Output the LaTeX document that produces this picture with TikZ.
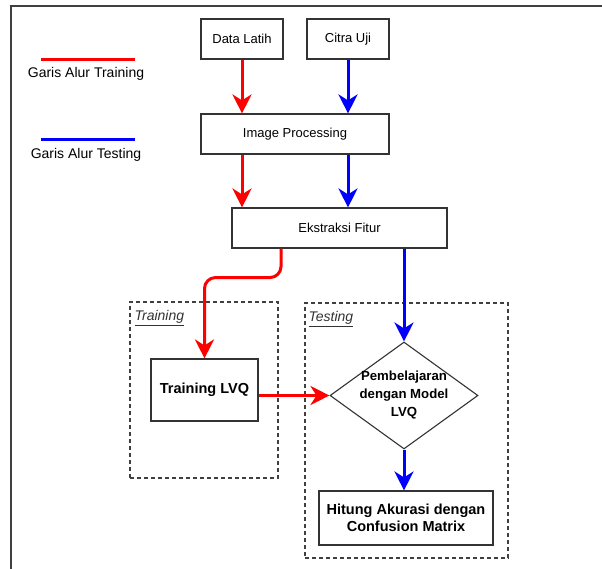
\documentclass[tikz,border=0pt]{standalone}
\usepackage{fontspec}
\setmainfont{Liberation Sans}
\usetikzlibrary{arrows.meta,positioning,shapes.geometric}

\begin{document}
\begin{tikzpicture}[
  x=1pt, y=-1pt,
  font=\fontsize{13}{15}\selectfont,
  box/.style={draw=black!80, line width=1.1pt, align=center, inner sep=1pt},
  stepbold/.style={box, font=\fontsize{14.5}{17}\selectfont\bfseries},
  group/.style={draw=black!75, dash pattern=on 4pt off 3pt, line width=1.2pt, inner sep=0pt},
  grplabel/.style={font=\fontsize{14}{16}\selectfont\itshape, inner sep=0pt, text=black!80},
  legend/.style={font=\fontsize{14}{16}\selectfont},
  flow/.style={line width=3pt, -{Stealth[length=19pt, width=19pt, inset=6pt]}},
  trainflow/.style={flow, draw=red},
  testflow/.style={flow, draw=blue}
]
\useasboundingbox[fill=white] (0,0) rectangle (602,569);
% canvas frame
\draw[black!75, line width=1.6pt] (11,569) -- (11,6) -- (602,6);

% legend
\draw[red, line width=3pt] (41,60) -- (135,60);
\node[legend] (legtrain) at (86,74) {Garis Alur Training};
\draw[blue, line width=3pt] (41,140) -- (135,140);
\node[legend] (legtest) at (86,155) {Garis Alur Testing};

% input & preprocessing
\node[box, minimum width=82pt, minimum height=40pt] (latih) at (242,39) {Data Latih};
\node[box, minimum width=82pt, minimum height=40pt] (uji) at (348,39) {Citra Uji};
\node[box, minimum width=188pt, minimum height=40pt] (improc) at (295,134) {Image Processing};
\node[box, minimum width=215pt, minimum height=40pt] (fitur) at (339.5,228) {Ekstraksi Fitur};

% groups
\node[group, minimum width=148pt, minimum height=176pt] (grptrain) at (204,390) {};
\node[grplabel, anchor=north west] (lbltrain) at ([xshift=5pt,yshift=-9pt]grptrain.north west) {\underline{Training}};
\node[group, minimum width=203pt, minimum height=255pt] (grptest) at (406.5,430.5) {};
\node[grplabel, anchor=north west] (lbltest) at ([xshift=4pt,yshift=-9pt]grptest.north west) {\underline{Testing}};

\node[stepbold, minimum width=107pt, minimum height=62pt] (lvq) at (204.5,390) {Training LVQ};
\node[box, diamond, aspect=1.38, inner sep=-10pt, font=\fontsize{13.2}{18}\selectfont\bfseries,
      minimum width=148pt, minimum height=107pt] (model) at (404,395.5) {Pembelajaran\\dengan Model\\LVQ};
\node[stepbold, minimum width=174pt, minimum height=54pt] (akurasi) at (406,518) {Hitung Akurasi dengan\\Confusion Matrix};

% training flow
\draw[trainflow] (latih) -- (latih |- improc.north);
\draw[trainflow] (improc.south -| latih) -- (fitur.north -| latih);
\draw[trainflow, rounded corners=11pt] ([xshift=-58.5pt]fitur.south) -- ++(0,29) -| (lvq.north);
\draw[trainflow] (lvq.east |- model.west) -- (model.west);

% testing flow
\draw[testflow] (uji) -- (uji |- improc.north);
\draw[testflow] (improc.south -| uji) -- (fitur.north -| uji);
\draw[testflow] (fitur.south -| model.north) -- (model.north);
\draw[testflow] (model.south) -- (model.south |- akurasi.north);
\end{tikzpicture}
\end{document}
